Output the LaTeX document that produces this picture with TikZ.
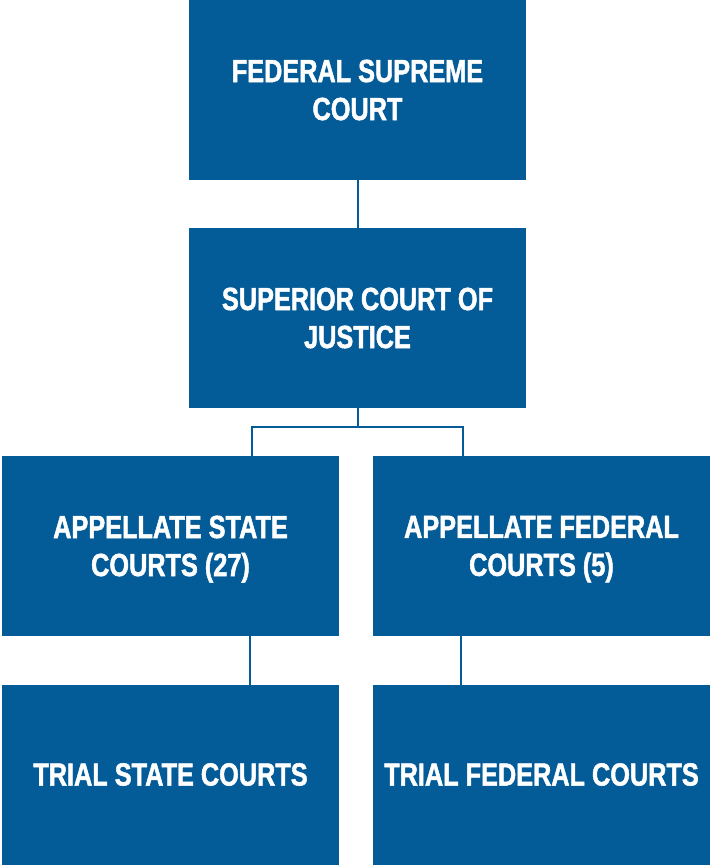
\documentclass[tikz,border=0pt]{standalone}
\usepackage{fontspec}
\setmainfont[FakeStretch=0.79, BoldFeatures={FakeBold=1.5}]{Liberation Sans}
\definecolor{courtblue}{HTML}{035B97}
\tikzset{courtbox/.style={fill=courtblue, text=white, minimum width=337pt, minimum height=180pt,
		inner sep=0pt, outer sep=0pt, align=center, font=\fontsize{32}{38}\selectfont\bfseries}}

\begin{document}
\begin{tikzpicture}[x=1pt, y=-1pt, line width=2pt]
	\useasboundingbox (0,0) rectangle (710,865);
	% boxes
	\node[courtbox] (supreme) at (357.5, 90) {FEDERAL SUPREME\\COURT};
	\node[courtbox] (superior) at (357.5, 318) {SUPERIOR COURT OF\\JUSTICE};
	\node[courtbox] (appstate) at (170.5, 546) {APPELLATE STATE\\COURTS \smash{(27)}};
	\node[courtbox] (appfed) at (541.5, 546) {APPELLATE FEDERAL\\COURTS \smash{(5)}};
	\node[courtbox] (trialstate) at (170.5, 774.5) {TRIAL STATE COURTS};
	\node[courtbox] (trialfed) at (541.5, 774.5) {TRIAL FEDERAL COURTS};
	
	% connectors
	\coordinate (split) at (357.5, 427);
	\draw[courtblue] (supreme.south) -- (superior.north);
	\draw[courtblue] (superior.south) -- (split);
	\draw[courtblue] ([xshift=81.5pt]appstate.north) |- (split) -| ([xshift=-78.5pt]appfed.north);
	\draw[courtblue] ([xshift=79.5pt]appstate.south) -- ([xshift=79.5pt]trialstate.north);
	\draw[courtblue] ([xshift=-81pt]appfed.south) -- ([xshift=-81pt]trialfed.north);
\end{tikzpicture}
\end{document}
